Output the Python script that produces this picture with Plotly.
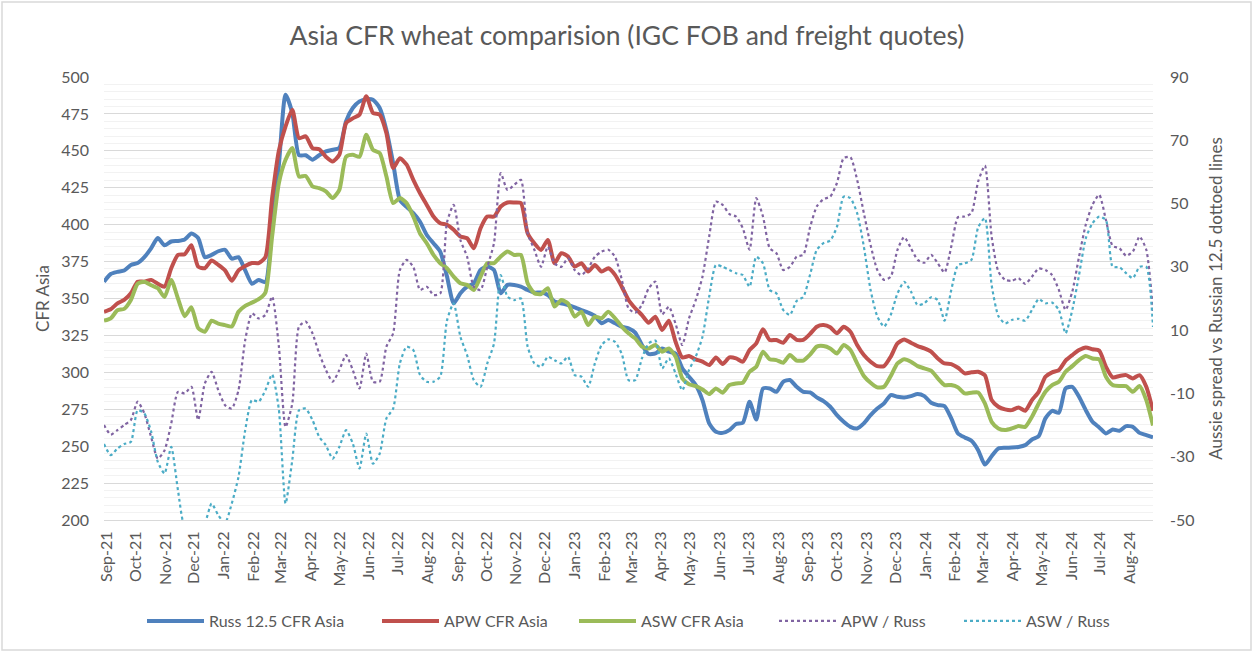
import plotly.graph_objects as go
import pandas as pd

# weekly observations, Aug-2021 to Aug-2024
dates = pd.date_range("2021-08-29", periods=157, freq="7D")

russ_cfr = [
    361.4, 366.6, 368, 369, 372.7, 374, 378, 384, 391, 386,
    388.6, 389, 390, 394, 391, 378, 379.5, 382, 383, 377,
    378, 369, 360, 362.6, 361, 398, 440, 488, 475.6, 447,
    447, 444, 447, 449.6, 450.7, 452, 470, 479, 483.5, 485,
    484.6, 479, 464, 441.7, 416.8, 412, 407.8, 402, 393, 387.4,
    381.8, 365, 346.7, 353.5, 358, 360.3, 369.3, 371.6, 369.3, 353.5,
    359.2, 359.2, 358, 355.8, 354, 354, 352.4, 347.9, 346.7, 345.6,
    344, 342.2, 340.4, 338.2, 333.2, 335.4, 333.2, 330.9, 329.8, 326.9,
    318.5, 312.4, 312.8, 316.2, 314, 312.8, 302.7, 297, 291.4, 281.2,
    265.4, 259.7, 259, 260.9, 265, 265.8, 280, 268, 289, 289.1,
    286.8, 293.6, 294.8, 290.2, 286.8, 286.4, 283, 280.5, 276.7, 271,
    266.5, 263.1, 262, 265.4, 271, 275.5, 279, 284.6, 283.5, 283,
    283.9, 285.3, 283.9, 279.4, 277.8, 277.1, 268.8, 258.6, 255.9, 253.6,
    247.3, 237.5, 243.2, 248.4, 248.9, 249.1, 249.5, 250.7, 254.5, 256.8,
    268.8, 273.9, 272.6, 289.1, 290.2, 283.5, 274.4, 266.5, 262.7, 258.6,
    261.3, 260.4, 263.6, 263.1, 259, 257.5, 256,
]

apw_cfr = [
    341, 342.7, 346.7, 349, 353.5, 361.4, 361.4, 362.6, 360, 358,
    370.5, 379.5, 380, 386, 371.6, 370.5, 375.7, 372.7, 369, 362,
    369, 372, 374, 374, 378, 418, 450, 466.5, 477.8, 458.6,
    459.8, 451.9, 451, 446, 442.8, 447.3, 468.8, 472, 474.5, 487,
    475.6, 474.5, 462, 438.3, 445, 440.6, 430.4, 421.3, 413.4, 405.5,
    401, 399.9, 396.5, 392, 390.8, 384, 397.6, 405.5, 405.5, 412.3,
    415, 415, 414.6, 394.2, 387.4, 382.9, 389.7, 373.9, 380.7, 378.4,
    371.6, 373.9, 368.2, 372.7, 368.2, 370.5, 366, 358, 349, 343.4,
    338.8, 333.6, 337.7, 328.7, 335, 320.7, 310.1, 311, 308.8, 307.2,
    304.9, 310.1, 305.6, 310.1, 309.4, 307.2, 315.1, 319.6, 329.1, 321.9,
    321.9, 320, 325.3, 322, 322, 326, 330.9, 332, 330.5, 326.4,
    330.9, 327.5, 318.5, 311.7, 307.2, 304.2, 304.2, 310.6, 319.6, 322.3,
    320, 317.8, 316.2, 314, 309.4, 306, 305.6, 303.1, 299.3, 300,
    300.4, 298, 281.2, 276.7, 274.9, 274.4, 276.2, 274, 281.2, 286.8,
    297, 300, 301.5, 307.9, 311.7, 315.1, 316.9, 315.6, 314.7, 303.8,
    296.6, 297.5, 298.1, 295.9, 298.1, 290.2, 274,
]

asw_cfr = [
    335, 336.6, 342, 343, 349, 360, 361.4, 359, 357, 351,
    362.6, 350, 338, 344, 330, 327.5, 335, 333, 332, 331,
    341, 345, 347.2, 349.5, 354, 392, 428, 444, 451.9, 432.6,
    433, 426, 424.7, 422.5, 418, 423.6, 446, 447.3, 446, 460.9,
    450.7, 448.5, 432.6, 414.6, 418, 414.6, 405.5, 394, 387.4, 379.5,
    373.9, 370.5, 364.8, 360.3, 359.2, 355.8, 364.8, 373.9, 373.9, 378.4,
    381.8, 379.5, 379.5, 360.3, 353.5, 353, 357, 344.5, 349, 346.7,
    337.7, 341.1, 332, 337.7, 336.6, 341.1, 336.6, 331, 326.4, 323,
    317.4, 316.2, 318.5, 314, 316.2, 310.6, 295.9, 292, 290.7, 288.4,
    285.3, 289.1, 286.2, 291.4, 292.5, 292.9, 300.4, 303.8, 314, 308.8,
    308.3, 306.5, 311.7, 308, 308, 312, 317.4, 317.8, 316.2, 312.8,
    318.5, 315.1, 306.1, 297.5, 292.9, 289.8, 290.2, 297.5, 306.1, 308.8,
    307.2, 304.2, 302.7, 301.1, 295.9, 291.4, 291.4, 289.8, 285.7, 286.2,
    286.4, 278.9, 266.5, 262, 260.9, 262, 263.6, 263.1, 269.9, 278.9,
    286.8, 291.4, 293.6, 300.4, 304.2, 308.3, 311, 309.4, 308.8, 297,
    291.4, 290.7, 290.7, 286.8, 290.7, 281.2, 264,
]

apw_spread = [
    -20, -23, -21.6, -20, -18.4, -12.6, -16.3, -23.7, -30.6, -28,
    -19.5, -9.5, -10, -7.9, -18.4, -6.8, -3.2, -9, -13.7, -14.8,
    -9, 6.9, 15.3, 13.7, 14.8, 20.6, 5, -20.6, -13.2, 11.1,
    12.7, 9, 2.6, -2.6, -6.3, -2.6, 2.1, -2.6, -8.4, 2.6,
    -6.3, -6.3, 4.8, 9, 29, 32.2, 30, 22.7, 23.7, 21.1,
    21.6, 44, 49.6, 38.5, 33.2, 23.7, 22.7, 30, 37.5, 59.6,
    54.3, 55.9, 57.5, 40.6, 35.4, 30, 36.4, 31.1, 30, 32.7,
    29, 27.4, 29.5, 33.2, 34.8, 35.4, 33.2, 26, 16.9, 15.5,
    18, 23.2, 25.3, 15, 17.4, 12, 5.3, 13.7, 19.5, 26.9,
    39.6, 50.6, 49.6, 46.7, 45.9, 42.2, 35.4, 51.7, 45.9, 35.9,
    34.3, 29, 30, 33.2, 33.8, 42.5, 49.1, 51.4, 52.2, 56.5,
    64.4, 64.7, 57.5, 47, 36.9, 29, 25.9, 26.9, 35.4, 39.4,
    35.9, 32.2, 31.3, 33.8, 31.1, 28.2, 36.4, 45.7, 45.9, 47,
    57, 62, 39.6, 28.5, 25.9, 25.6, 26.4, 24.6, 26.9, 29.5,
    29, 27.4, 22.7, 16.4, 22.2, 33.2, 43.3, 49.6, 52.8, 44.8,
    36.6, 35.9, 33.5, 34.8, 39.6, 35.4, 16,
]

asw_spread = [
    -26, -29.5, -27.4, -26, -25.3, -15.3, -16.3, -22, -31.6, -35.3,
    -26.9, -40.6, -52, -51, -53, -51, -44.8, -48.5, -51, -44.8,
    -36.4, -21.6, -12.1, -12.6, -9, -4, -15, -44.8, -31.1, -15.3,
    -14.8, -18.4, -23.7, -26.4, -30.6, -26.9, -21.6, -25.8, -33.7, -22.7,
    -32.2, -29, -17.9, -14.8, -0.5, 4.8, 3.7, -4.2, -6.3, -6.3,
    -4.7, 13, 18.5, 7.9, 2.1, -5.8, -7.9, -0.5, 5.8, 27.4,
    20.6, 19.5, 20, 4.8, -0.5, -1.6, 1.6, 0.5, -0.5, 1.6,
    -4.2, -4.7, -7.9, -0.5, 5.3, 7.1, 6.3, 2.5, -5.8, -5.8,
    1.1, 5.8, 6.7, -2.1, 1.1, -3.7, -9, -2.6, 1.6, 7.9,
    20.6, 30.6, 30, 29, 28, 27.4, 23.7, 33.2, 31.1, 22.7,
    21.6, 16.4, 14.8, 19.2, 20.5, 27.5, 35.4, 37.5, 38.3, 42.7,
    52.2, 51.7, 47, 36.4, 22.7, 14.3, 11.1, 14.8, 21.6, 25.3,
    22.2, 17.9, 18.5, 20.4, 19.5, 13, 22.7, 30.6, 31.1, 32.2,
    42.5, 45.4, 24.3, 14.5, 12.1, 13.2, 13.6, 13, 16.4, 19.8,
    18.5, 18.7, 16.4, 9, 16.4, 27.4, 39, 43.8, 45.9, 44.8,
    30, 29.9, 28, 26.4, 30, 30, 11,
]

right_ticks = [-50, -30, -10, 10, 30, 50, 70, 90]
right_labels = ["-50", "-30", "-10", "10", "30", "50", "70", "90"]

font = "Lato, 'Open Sans', sans-serif"
grey = "#595959"

# plot area in pixels: left 104, right 1153, top 77, bottom 520
W, H = 1254, 652
L, R, T, B = 104, 101, 77, 132
pw, ph = W - L - R, H - T - B


def px_x(p):
    return (p - L) / pw


def px_y(p):
    return (H - B - p) / ph


fig = go.Figure()

series = [
    ("Russ 12.5 CFR Asia", russ_cfr, "#4F81BD", "y", "solid", 4),
    ("APW CFR Asia", apw_cfr, "#C0504D", "y", "solid", 4),
    ("ASW CFR Asia", asw_cfr, "#9BBB59", "y", "solid", 4),
    ("APW / Russ", apw_spread, "#8064A2", "y2", "dot", 2.2),
    ("ASW / Russ", asw_spread, "#4BACC6", "y2", "dot", 2.2),
]
legend_starts = [150, 385, 582, 782, 967]

legends = {}
for k, (name, vals, col, ax, dash, w) in enumerate(series):
    lg = "legend" if k == 0 else f"legend{k + 1}"
    fig.add_trace(go.Scatter(
        x=dates, y=vals, name=name, mode="lines", yaxis=ax, legend=lg,
        showlegend=True,
        line=dict(color=col, width=w, dash=dash, shape="spline", smoothing=0.6),
    ))
    legends[lg] = dict(
        orientation="h", x=px_x(legend_starts[k] - 8), xanchor="left",
        y=px_y(621), yanchor="middle", itemwidth=57,
        font=dict(size=16, color=grey), bgcolor="rgba(0,0,0,0)",
    )

fig.update_layout(
    width=W, height=H, showlegend=True,
    margin=dict(l=L, r=R, t=T, b=B, autoexpand=False),
    paper_bgcolor="white", plot_bgcolor="white",
    font=dict(family=font, color=grey, size=16),
    title=dict(text="Asia CFR wheat comparision (IGC FOB and freight quotes)",
               x=0.5, xanchor="center", y=1 - 36 / H, yanchor="middle",
               font=dict(size=26.5, color=grey)),
    xaxis=dict(
        type="date", range=[dates[0], dates[-1]], automargin=False,
        tick0="2021-09-01", dtick="M1", tickformat="%b-%y", tickangle=-90,
        showgrid=False, showline=True, linecolor="#d9d9d9", ticks="",
        ticklabelstandoff=4, tickfont=dict(size=16),
    ),
    yaxis=dict(
        range=[200, 500], dtick=25, showgrid=True, gridcolor="#d9d9d9",
        minor=dict(dtick=5, showgrid=True, gridcolor="#f2f2f2"),
        zeroline=False, ticks="", ticklabelstandoff=14, automargin=False,
        title=dict(text="CFR Asia", standoff=7, font=dict(size=17)),
    ),
    yaxis2=dict(
        range=[-50, 90], tickmode="array", tickvals=right_ticks, ticktext=right_labels,
        overlaying="y", side="right", automargin=False,
        showgrid=False, zeroline=False, ticks="", ticklabelstandoff=16,
        title=dict(text="Aussie spread vs Russian 12.5 dottoed lines", standoff=16,
                   font=dict(size=17)),
    ),
    shapes=[dict(type="rect", xref="paper", yref="paper",
                 x0=px_x(2), x1=px_x(1251), y0=px_y(650), y1=px_y(2),
                 line=dict(color="#d9d9d9", width=1.5), fillcolor="rgba(0,0,0,0)",
                 layer="below")],
    **legends,
)

# the page body has a default 8px margin; remove it so the figure sits at 0,0
fig.write_html("out.html", config={"displayModeBar": False},
               post_script="document.body.style.margin='0';")
